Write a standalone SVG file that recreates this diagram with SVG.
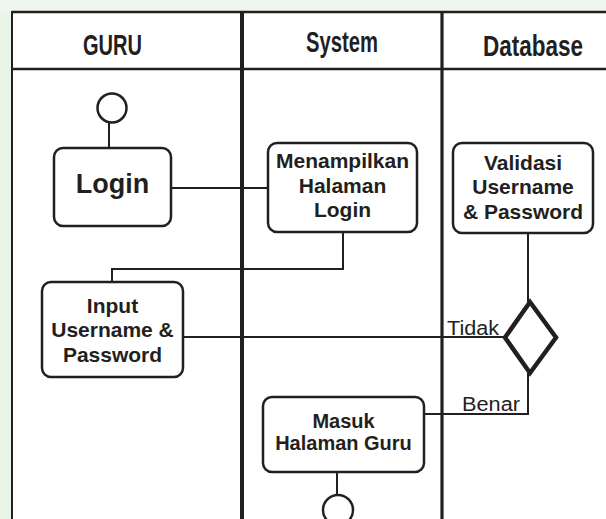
<svg xmlns="http://www.w3.org/2000/svg" width="606" height="519" viewBox="0 0 606 519">
<style>
.lane{stroke:#231f20;fill:none}
.box{fill:#fff;stroke:#231f20;stroke-width:2.5}
.conn{stroke:#231f20;stroke-width:2;fill:none}
.hd{font-family:"Liberation Sans",Arial,sans-serif;font-weight:bold;font-size:30px;fill:#231f20;text-anchor:middle}
.t{font-family:"Liberation Sans",Arial,sans-serif;font-weight:bold;font-size:21px;fill:#231f20;text-anchor:middle}
.lbl{font-family:"Liberation Sans",Arial,sans-serif;font-size:20px;fill:#231f20}
</style>
<rect width="606" height="519" fill="#fff"/>
<rect x="0" y="0" width="11" height="519" fill="#e8f5e9"/>
<rect x="0" y="0" width="606" height="11" fill="#eef6ef"/>
<g id="lanes">
<line class="lane" x1="12" y1="12" x2="606" y2="12" stroke-width="2.5"/>
<line class="lane" x1="12" y1="69" x2="606" y2="69" stroke-width="2.5"/>
<line class="lane" x1="12" y1="11" x2="12" y2="519" stroke-width="2"/>
<line class="lane" x1="242" y1="11" x2="242" y2="519" stroke-width="4"/>
<line class="lane" x1="442" y1="11" x2="442" y2="519" stroke-width="3.2"/>
<text class="hd" x="112.5" y="55" textLength="59" lengthAdjust="spacingAndGlyphs">GURU</text>
<text class="hd" x="342" y="52" textLength="72" lengthAdjust="spacingAndGlyphs">System</text>
<text class="hd" x="533" y="56" textLength="100" lengthAdjust="spacingAndGlyphs">Database</text>
</g>
<g id="connectors">
<line class="conn" x1="109" y1="123" x2="109" y2="148"/>
<line class="conn" x1="171" y1="188" x2="268" y2="188"/>
<polyline class="conn" points="343,232 343,269 112,269 112,282"/>
<line class="conn" x1="183" y1="337" x2="504" y2="337"/>
<line class="conn" x1="528" y1="233" x2="528" y2="302"/>
<polyline class="conn" points="528,373 528,414 424,414"/>
<line class="conn" x1="337" y1="472" x2="337" y2="495"/>
<text class="lbl" x="447" y="335" textLength="52" lengthAdjust="spacingAndGlyphs">Tidak</text>
<text class="lbl" x="462" y="411" textLength="58" lengthAdjust="spacingAndGlyphs">Benar</text>
</g>
<g id="start">
<circle cx="112" cy="108" r="14.5" fill="#fff" stroke="#231f20" stroke-width="2.5"/>
</g>
<g id="login">
<rect class="box" x="54" y="148" width="117" height="78" rx="9"/>
<text class="t" x="112.5" y="193" style="font-size:27px">Login</text>
</g>
<g id="menampilkan">
<rect class="box" x="268" y="143" width="149" height="89" rx="9"/>
<text class="t" x="342.5" y="168">Menampilkan</text>
<text class="t" x="342.5" y="193">Halaman</text>
<text class="t" x="342.5" y="217">Login</text>
</g>
<g id="input">
<rect class="box" x="42" y="282" width="141" height="95" rx="9"/>
<text class="t" x="112.5" y="313">Input</text>
<text class="t" x="112.5" y="337">Username &amp;</text>
<text class="t" x="112.5" y="362">Password</text>
</g>
<g id="validasi">
<rect class="box" x="453" y="143" width="140" height="90" rx="9"/>
<text class="t" x="523" y="170">Validasi</text>
<text class="t" x="523" y="194">Username</text>
<text class="t" x="523" y="219">&amp; Password</text>
</g>
<g id="decision">
<polygon points="530,302 556,337.5 530,373 505,337.5" fill="#fff" stroke="#231f20" stroke-width="4.5"/>
</g>
<g id="masuk">
<rect class="box" x="263" y="397" width="161" height="75" rx="9"/>
<text class="t" x="343.5" y="428" style="font-size:20px">Masuk</text>
<text class="t" x="343.5" y="450" style="font-size:20px">Halaman Guru</text>
</g>
<g id="end">
<circle cx="338" cy="510" r="15" fill="#fff" stroke="#231f20" stroke-width="2.5"/>
</g>
</svg>
